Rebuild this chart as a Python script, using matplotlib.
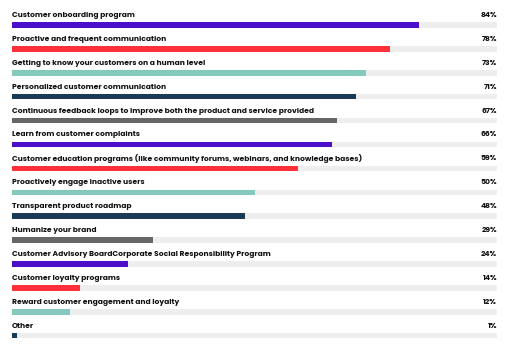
import matplotlib
matplotlib.use("Agg")
import matplotlib.pyplot as plt

categories = [
    "Customer onboarding program",
    "Proactive and frequent communication",
    "Getting to know your customers on a human level",
    "Personalized customer communication",
    "Continuous feedback loops to improve both the product and service provided",
    "Learn from customer complaints",
    "Customer education programs (like community forums, webinars, and knowledge bases)",
    "Proactively engage inactive users",
    "Transparent product roadmap",
    "Humanize your brand",
    "Customer Advisory BoardCorporate Social Responsibility Program",
    "Customer loyalty programs",
    "Reward customer engagement and loyalty",
    "Other",
]
values = [84, 78, 73, 71, 67, 66, 59, 50, 48, 29, 24, 14, 12, 1]
palette = ["#4b0fcc", "#ff3038", "#84cabc", "#1b3a55", "#666666"]

plt.rcParams["font.family"] = ["Poppins", "Inter", "DejaVu Sans"]

fig = plt.figure(figsize=(5.12, 3.48), dpi=100)
ax = fig.add_axes([12 / 512, 0, (497 - 12) / 512, 1])
row_px = 23.9
ax.set_xlim(0, 100)
ax.set_ylim((348 - 25) / row_px, -25 / row_px)
ax.axis("off")

bar_h = 5.5 / row_px
for i, (cat, val) in enumerate(zip(categories, values)):
    color = palette[i % len(palette)]
    ax.barh(i, 100, height=bar_h, color="#eeeeee", left=0)
    ax.barh(i, val, height=bar_h, color=color, left=0)
    ax.text(0, i - 0.40, cat, ha="left", va="center", fontsize=5.45,
            fontweight="bold", color="#111111")
    ax.text(100, i - 0.40, f"{val}%", ha="right", va="center", fontsize=5.45,
            fontweight="bold", color="#111111")

fig.savefig("out.png", dpi=100, facecolor="white")
